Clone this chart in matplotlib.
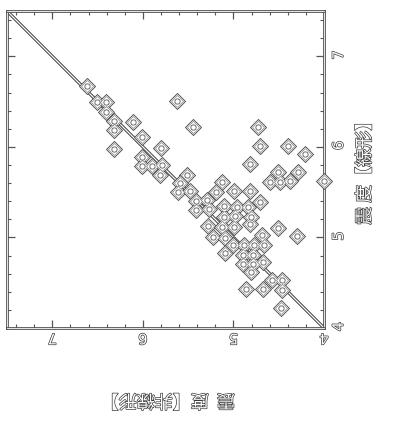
import matplotlib
matplotlib.use('Agg')
import matplotlib.pyplot as plt
import matplotlib.patheffects as pe
from matplotlib.markers import MarkerStyle

# 震度【非線形】 (horizontal axis, drawn right-to-left) vs 震度【線形】 (vertical axis)
nonlinear = [6.62, 6.51, 6.41, 6.41, 6.32, 6.32, 6.11, 6.01, 6.32, 5.80,
             6.01, 6.01, 5.90, 5.79, 5.81, 5.62, 5.45, 5.51,
             5.59, 5.61, 5.48, 5.41, 5.29, 5.41, 5.27, 5.13, 4.99, 5.19,
             4.82, 5.10, 4.96, 4.84, 4.71, 5.10, 4.98, 4.81, 5.28, 5.13,
             4.99, 4.82, 5.23, 5.09, 5.09,
             5.00, 4.88, 4.77, 4.66, 4.68, 4.89, 4.78, 4.67, 4.89, 4.78,
             4.81, 4.51, 4.30, 4.57, 4.46, 4.46, 4.67, 4.86, 4.47,
             4.73, 4.71, 4.40, 4.21, 4.82, 4.51, 4.29, 4.60, 4.49, 4.38, 4.00]
linear = [6.67, 6.50, 6.50, 6.38, 6.29, 6.19, 6.27, 6.11, 5.98, 5.99,
          5.89, 5.79, 5.79, 5.80, 5.69, 6.51, 6.22, 5.69,
          5.60, 5.50, 5.51, 5.40, 5.41, 5.30, 5.31, 5.61, 5.51, 5.50,
          5.51, 5.35, 5.34, 5.34, 5.39, 5.23, 5.24, 5.23, 5.13, 5.12,
          5.12, 5.15, 5.00, 4.99, 4.83,
          4.92, 4.92, 4.92, 4.92, 5.03, 4.81, 4.81, 4.73, 4.71, 4.71,
          4.62, 5.10, 5.02, 4.53, 4.53, 4.42, 4.43, 4.43, 4.22,
          6.22, 6.01, 6.01, 5.92, 5.81, 5.72, 5.72, 5.61, 5.61, 5.62, 5.62]

diag_line = [4.0, 7.5]
major_ticks = [4, 5, 6, 7]
minor_ticks = [4.2, 4.4, 4.6, 4.8, 5.2, 5.4, 5.6, 5.8, 6.2, 6.4, 6.6, 6.8, 7.2, 7.4]
major_labels = ['4', '5', '6', '7']
xlabel_text = '震  度【非線形】'
ylabel_text = '震 度【線形】'

INK = '#3a3a3a'
cjk = ['Noto Sans CJK JP', 'DejaVu Sans']
hollow = [pe.Stroke(linewidth=1.0, foreground=INK), pe.Normal()]

fig = plt.figure(figsize=(3.97, 4.39), dpi=100)
fig.patch.set_facecolor('white')
ax = fig.add_axes([7 / 397, 110 / 439, 317 / 397, 317 / 439])
ax.set_xlim(7.5, 4.0)
ax.set_ylim(4.0, 7.5)

# 1:1 line drawn as a hollow double line
ax.plot(diag_line, diag_line, color=INK, lw=2.3, solid_capstyle='butt', zorder=2)
ax.plot(diag_line, diag_line, color='white', lw=0.9, solid_capstyle='butt', zorder=2.1)

dm = MarkerStyle('D', joinstyle='round')
ax.plot(nonlinear, linear, ls='none', marker=dm, ms=8.2, mfc='white', mec='#555555',
        mew=0.7, zorder=3, clip_on=False)
ax.plot(nonlinear, linear, ls='none', marker=dm, ms=6.4, mfc='white', mec='#8a8a8a',
        mew=0.5, zorder=3.1, clip_on=False)
ax.plot(nonlinear, linear, ls='none', marker='o', ms=3.8, mfc='white', mec='#555555',
        mew=0.6, zorder=3.2, clip_on=False)

ax.set_xticks(major_ticks)
ax.set_xticklabels(major_labels)
ax.set_xticks(minor_ticks, minor=True)
ax.set_yticks(major_ticks)
ax.set_yticklabels(major_labels)
ax.set_yticks(minor_ticks, minor=True)

ax.tick_params(which='both', direction='in', top=True, bottom=True, left=True, right=True,
               labelbottom=True, labeltop=False, labelleft=False, labelright=True,
               color='#555555')
ax.tick_params(which='major', length=6, width=0.9)
ax.tick_params(which='minor', length=3, width=0.8)
ax.tick_params(axis='x', labelrotation=180, pad=2, labelsize=10.5)
ax.tick_params(axis='y', labelrotation=90, pad=5, labelsize=10.5)

for lbl in ax.get_xticklabels() + ax.get_yticklabels():
    lbl.set_color('white')
    lbl.set_path_effects(hollow)

for sp in ax.spines.values():
    sp.set_linewidth(1.0)
    sp.set_edgecolor(INK)
    sp.set_path_effects([pe.Stroke(linewidth=2.0, foreground='#555555'),
                         pe.Stroke(linewidth=0.6, foreground='white')])

fig.text(168 / 397, 1 - 401 / 439, xlabel_text, rotation=180, ha='center', va='center',
         fontsize=13, family=cjk, color='white', path_effects=hollow)
fig.text(365 / 397, 1 - 170 / 439, ylabel_text, rotation=90, ha='center', va='center',
         fontsize=13, family=cjk, color='white', path_effects=hollow)

fig.savefig('out.png', dpi=100, facecolor='white')
